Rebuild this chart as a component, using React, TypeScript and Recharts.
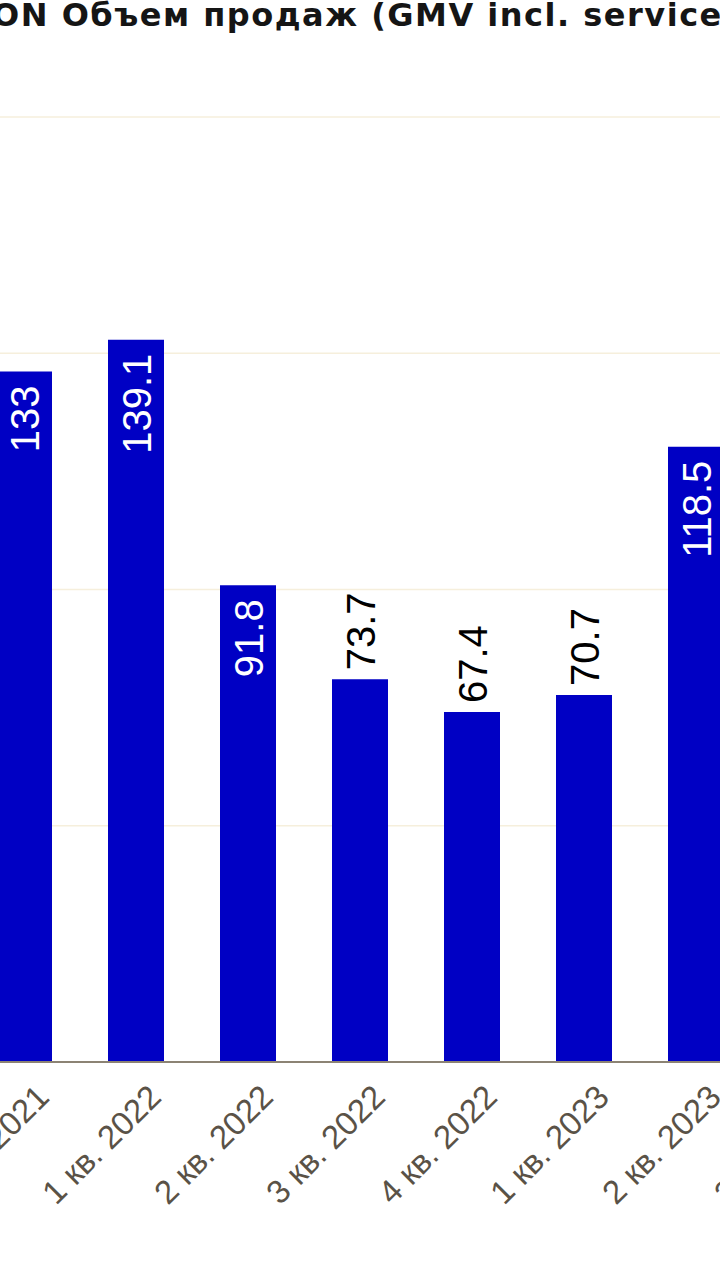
import React from 'react';
import { Bar, BarChart, CartesianGrid, LabelList, XAxis, YAxis } from 'recharts';

const QUARTERS = ['4 кв. 2021', '1 кв. 2022', '2 кв. 2022', '3 кв. 2022', '4 кв. 2022', '1 кв. 2023', '2 кв. 2023', '3 кв. 2023'];
// last quarter is off the picture, its bar can't be read
const GMV: (number | null)[] = [133, 139.1, 91.8, 73.7, 67.4, 70.7, 118.5, null];
const Y_TICKS = [0, 45.5, 91, 136.5, 182];

const TITLE = 'OZON Объем продаж (GMV incl. services), млрд руб.';

const BAR_COLOR = '#0000c4';
const LABEL_FONT = '"Liberation Sans", Arial, sans-serif';

const data = QUARTERS.map((quarter, i) => ({ quarter, gmv: GMV[i] }));

function QuarterTick(props: any) {
    const { x, y, payload } = props;
    const ax = x + 27;
    const ay = y + 37;
    return (
        <text
            transform={`translate(${ax},${ay}) rotate(-45)`}
            textAnchor="end"
            fontSize={33}
            fill="#5a5247"
            fontFamily={LABEL_FONT}
        >
            {payload.value}
        </text>
    );
}

function ValueLabel(props: any) {
    const { x, y, width, value } = props;
    if (value == null) return null;
    const cx = Number(x) + Number(width) / 2;
    const inside = value > 80;
    const ax = cx + 15;
    const ay = inside ? Number(y) + 14 : Number(y) - 9;
    return (
        <text
            x={ax}
            y={ay}
            transform={`rotate(-90 ${ax} ${ay})`}
            textAnchor={inside ? 'end' : 'start'}
            fill={inside ? '#ffffff' : '#000000'}
            fontSize={40}
            fontFamily={LABEL_FONT}
        >
            {String(value)}
        </text>
    );
}

// vertical grid lines sit between the categories, not on the ticks
const bandEdges = ({ xAxis }: any) => {
    try {
        const scale = xAxis?.scale;
        if (!scale) return [];
        const bw = typeof scale.bandwidth === 'function' ? scale.bandwidth() : 0;
        const edges = QUARTERS.map((q) => scale(q)).filter((v: any) => typeof v === 'number');
        if (edges.length) edges.push(edges[edges.length - 1] + bw);
        return edges;
    } catch {
        return [];
    }
};

export default function App() {
    return (
        <div
            style={{
                position: 'fixed',
                left: 0,
                top: 0,
                width: 720,
                height: 1280,
                overflow: 'hidden',
                background: '#ffffff',
            }}
        >
            <div
                style={{
                    position: 'absolute',
                    left: -8,
                    top: 0,
                    whiteSpace: 'nowrap',
                    fontFamily: '"DejaVu Sans", sans-serif',
                    fontWeight: 700,
                    fontSize: 32,
                    lineHeight: '30px',
                    letterSpacing: 1.5,
                    color: '#151515',
                }}
            >
                <span style={{ position: 'absolute', right: '100%' }}>{TITLE.slice(0, 2)}</span>
                {TITLE.slice(2)}
            </div>
            <div style={{ position: 'absolute', left: -32.5, top: 0 }}>
                <BarChart
                    width={896}
                    height={1280}
                    data={data}
                    margin={{ top: 117, right: 0, bottom: 158, left: 0 }}
                    barSize={56}
                >
                    <CartesianGrid vertical={false} stroke="#f6efdc" strokeWidth={1.5} />
                    <CartesianGrid horizontal={false} stroke="#faf5e8" strokeWidth={1.5} verticalCoordinatesGenerator={bandEdges} />
                    <YAxis hide domain={[0, 182]} ticks={Y_TICKS} />
                    <XAxis
                        dataKey="quarter"
                        interval={0}
                        height={60}
                        tickLine={false}
                        tickSize={0}
                        tickMargin={0}
                        axisLine={{ stroke: '#8c8374', strokeWidth: 2 }}
                        tick={<QuarterTick />}
                    />
                    <Bar dataKey="gmv" fill={BAR_COLOR} isAnimationActive={false}>
                        <LabelList dataKey="gmv" content={<ValueLabel />} />
                    </Bar>
                </BarChart>
            </div>
        </div>
    );
}
